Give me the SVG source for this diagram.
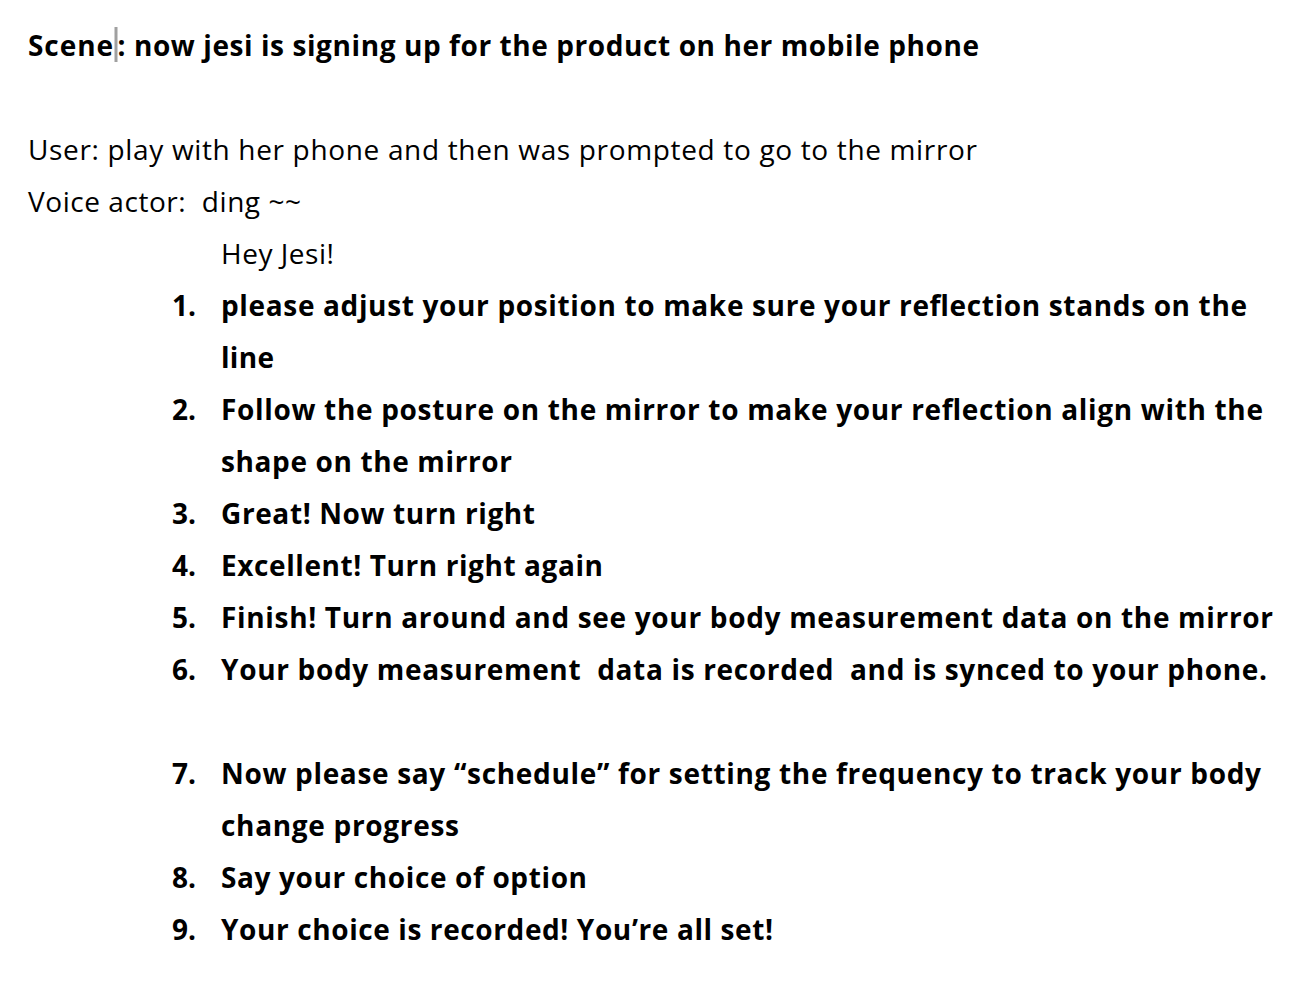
<svg xmlns="http://www.w3.org/2000/svg" width="1300" height="998" viewBox="0 0 1300 998">
<style>
text{font-family:"Open Sans","Noto Sans",sans-serif;font-size:28px;fill:#000}
.b{font-weight:700}
</style>
<rect width="1300" height="998" fill="#fff"/>
<g id="heading">
<text class="b" x="28" y="56" textLength="85">Scene</text>
<text class="b" x="117.5" y="56" textLength="861.5">: now jesi is signing up for the product on her mobile phone</text>
<rect x="114.5" y="27" width="3" height="35" fill="#a0a0a0"/>
</g>
<g id="intro">
<text x="28" y="160" textLength="949">User: play with her phone and then was prompted to go to the mirror</text>
<text x="28" y="212" xml:space="preserve" textLength="273">Voice actor:  ding ~~</text>
<text x="221" y="264" textLength="113">Hey Jesi!</text>
</g>
<g id="list">
<text class="b" x="172" y="316">1.</text>
<text class="b" x="221" y="316" textLength="1026">please adjust your position to make sure your reflection stands on the</text>
<text class="b" x="221" y="368" textLength="53">line</text>
<text class="b" x="172" y="420">2.</text>
<text class="b" x="221" y="420" textLength="1042">Follow the posture on the mirror to make your reflection align with the</text>
<text class="b" x="221" y="472" textLength="291">shape on the mirror</text>
<text class="b" x="172" y="524">3.</text>
<text class="b" x="221" y="524" textLength="314">Great! Now turn right</text>
<text class="b" x="172" y="576">4.</text>
<text class="b" x="221" y="576" textLength="382">Excellent! Turn right again</text>
<text class="b" x="172" y="628">5.</text>
<text class="b" x="221" y="628" textLength="1052">Finish! Turn around and see your body measurement data on the mirror</text>
<text class="b" x="172" y="680">6.</text>
<text class="b" x="221" y="680" xml:space="preserve" textLength="1046">Your body measurement  data is recorded  and is synced to your phone.</text>
<text class="b" x="172" y="784">7.</text>
<text class="b" x="221" y="784" textLength="1040">Now please say “schedule” for setting the frequency to track your body</text>
<text class="b" x="221" y="836" textLength="238">change progress</text>
<text class="b" x="172" y="888">8.</text>
<text class="b" x="221" y="888" textLength="366">Say your choice of option</text>
<text class="b" x="172" y="940">9.</text>
<text class="b" x="221" y="940" textLength="552">Your choice is recorded! You’re all set!</text>
</g>
</svg>
